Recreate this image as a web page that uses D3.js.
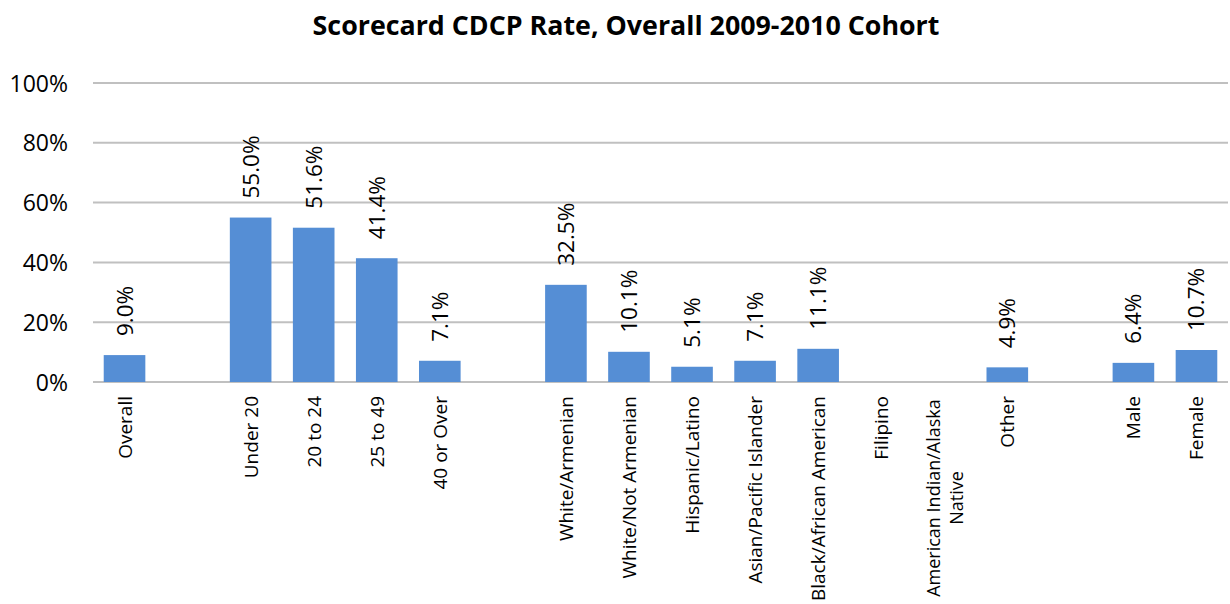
<!DOCTYPE html>
<html><head><meta charset="utf-8">
<script src="https://cdn.jsdelivr.net/npm/d3@7"></script>
<style>body{margin:0;background:#fff}svg{display:block}</style>
</head><body>
<svg id="c" width="1230" height="604"></svg>
<script>
const title = "Scorecard CDCP Rate, Overall 2009-2010 Cohort";
const categories = ["Overall","","Under 20","20 to 24","25 to 49","40 or Over","","White/Armenian","White/Not  Armenian","Hispanic/Latino","Asian/Pacific Islander","Black/African American","Filipino","American Indian/Alaska|Native","Other","","Male","Female"];
const values = [9.0,null,55.0,51.6,41.4,7.1,null,32.5,10.1,5.1,7.1,11.1,null,null,4.9,null,6.4,10.7];
const yTicks = [0,20,40,60,80,100];

const svg = d3.select("#c");
const m = {left:93, right:1228, top:83, bottom:382};
const keys = categories.map((d,i)=>i);
const x = d3.scaleBand().domain(keys).range([m.left,m.right]).paddingInner(0.34).paddingOuter(0.17);
const y = d3.scaleLinear().domain([0,100]).range([m.bottom,m.top]);
const font = "'Open Sans', sans-serif";

svg.append("text").attr("x",626).attr("y",35).attr("text-anchor","middle")
  .attr("font-family",font).attr("font-weight","bold").attr("font-size",26.8).attr("fill","#000").text(title);

// gridlines
svg.append("g").selectAll("line").data(yTicks).join("line")
  .attr("x1",m.left).attr("x2",m.right).attr("y1",d=>y(d)).attr("y2",d=>y(d))
  .attr("stroke","#c0c0c0").attr("stroke-width",2);

// y axis labels
const yAxis = d3.axisLeft(y).tickValues(yTicks).tickFormat(d=>d+"%").tickSize(0).tickPadding(25);
const ya = svg.append("g").attr("transform",`translate(${m.left},0)`).call(yAxis);
ya.select(".domain").remove();
ya.selectAll("text").attr("font-family",font).attr("font-size",23).attr("fill","#000").attr("dy","0.35em");

// bars
const data = keys.map(i=>({i, v:values[i]})).filter(d=>d.v!=null);
svg.append("g").selectAll("rect").data(data).join("rect")
  .attr("x",d=>x(d.i)).attr("width",x.bandwidth())
  .attr("y",d=>y(d.v)).attr("height",d=>y(0)-y(d.v))
  .attr("fill","#558ed5");

// value labels
svg.append("g").selectAll("text").data(data).join("text")
  .attr("transform",d=>`translate(${x(d.i)+x.bandwidth()/2+8},${y(d.v)-19}) rotate(-90)`)
  .attr("font-family",font).attr("font-size",22.5).attr("fill","#000")
  .text(d=>d.v.toFixed(1)+"%");

// category labels
const xAxis = d3.axisBottom(x).tickSize(0).tickFormat(i=>categories[i]);
const xa = svg.append("g").attr("transform",`translate(0,${m.bottom})`).call(xAxis);
xa.select(".domain").remove();
xa.selectAll(".tick text").each(function(i){
  const t = d3.select(this);
  const lines = categories[i].split("|");
  const n = lines.length;
  t.text(null).attr("transform","translate(0,14) rotate(-90)").attr("text-anchor","end")
   .attr("x",0).attr("y",0).attr("dy",null)
   .attr("font-family",font).attr("font-size",n>1 ? 18 : 19).attr("fill","#000");
  lines.forEach((l,k)=>{
    t.append("tspan").attr("x",0).attr("y",(k-(n-1)/2)*23+7)
     .attr("text-anchor", n>1 ? "middle" : "end")
     .attr("dx", n>1 ? -102 : 0)
     .text(l);
  });
});
</script>
</body></html>
